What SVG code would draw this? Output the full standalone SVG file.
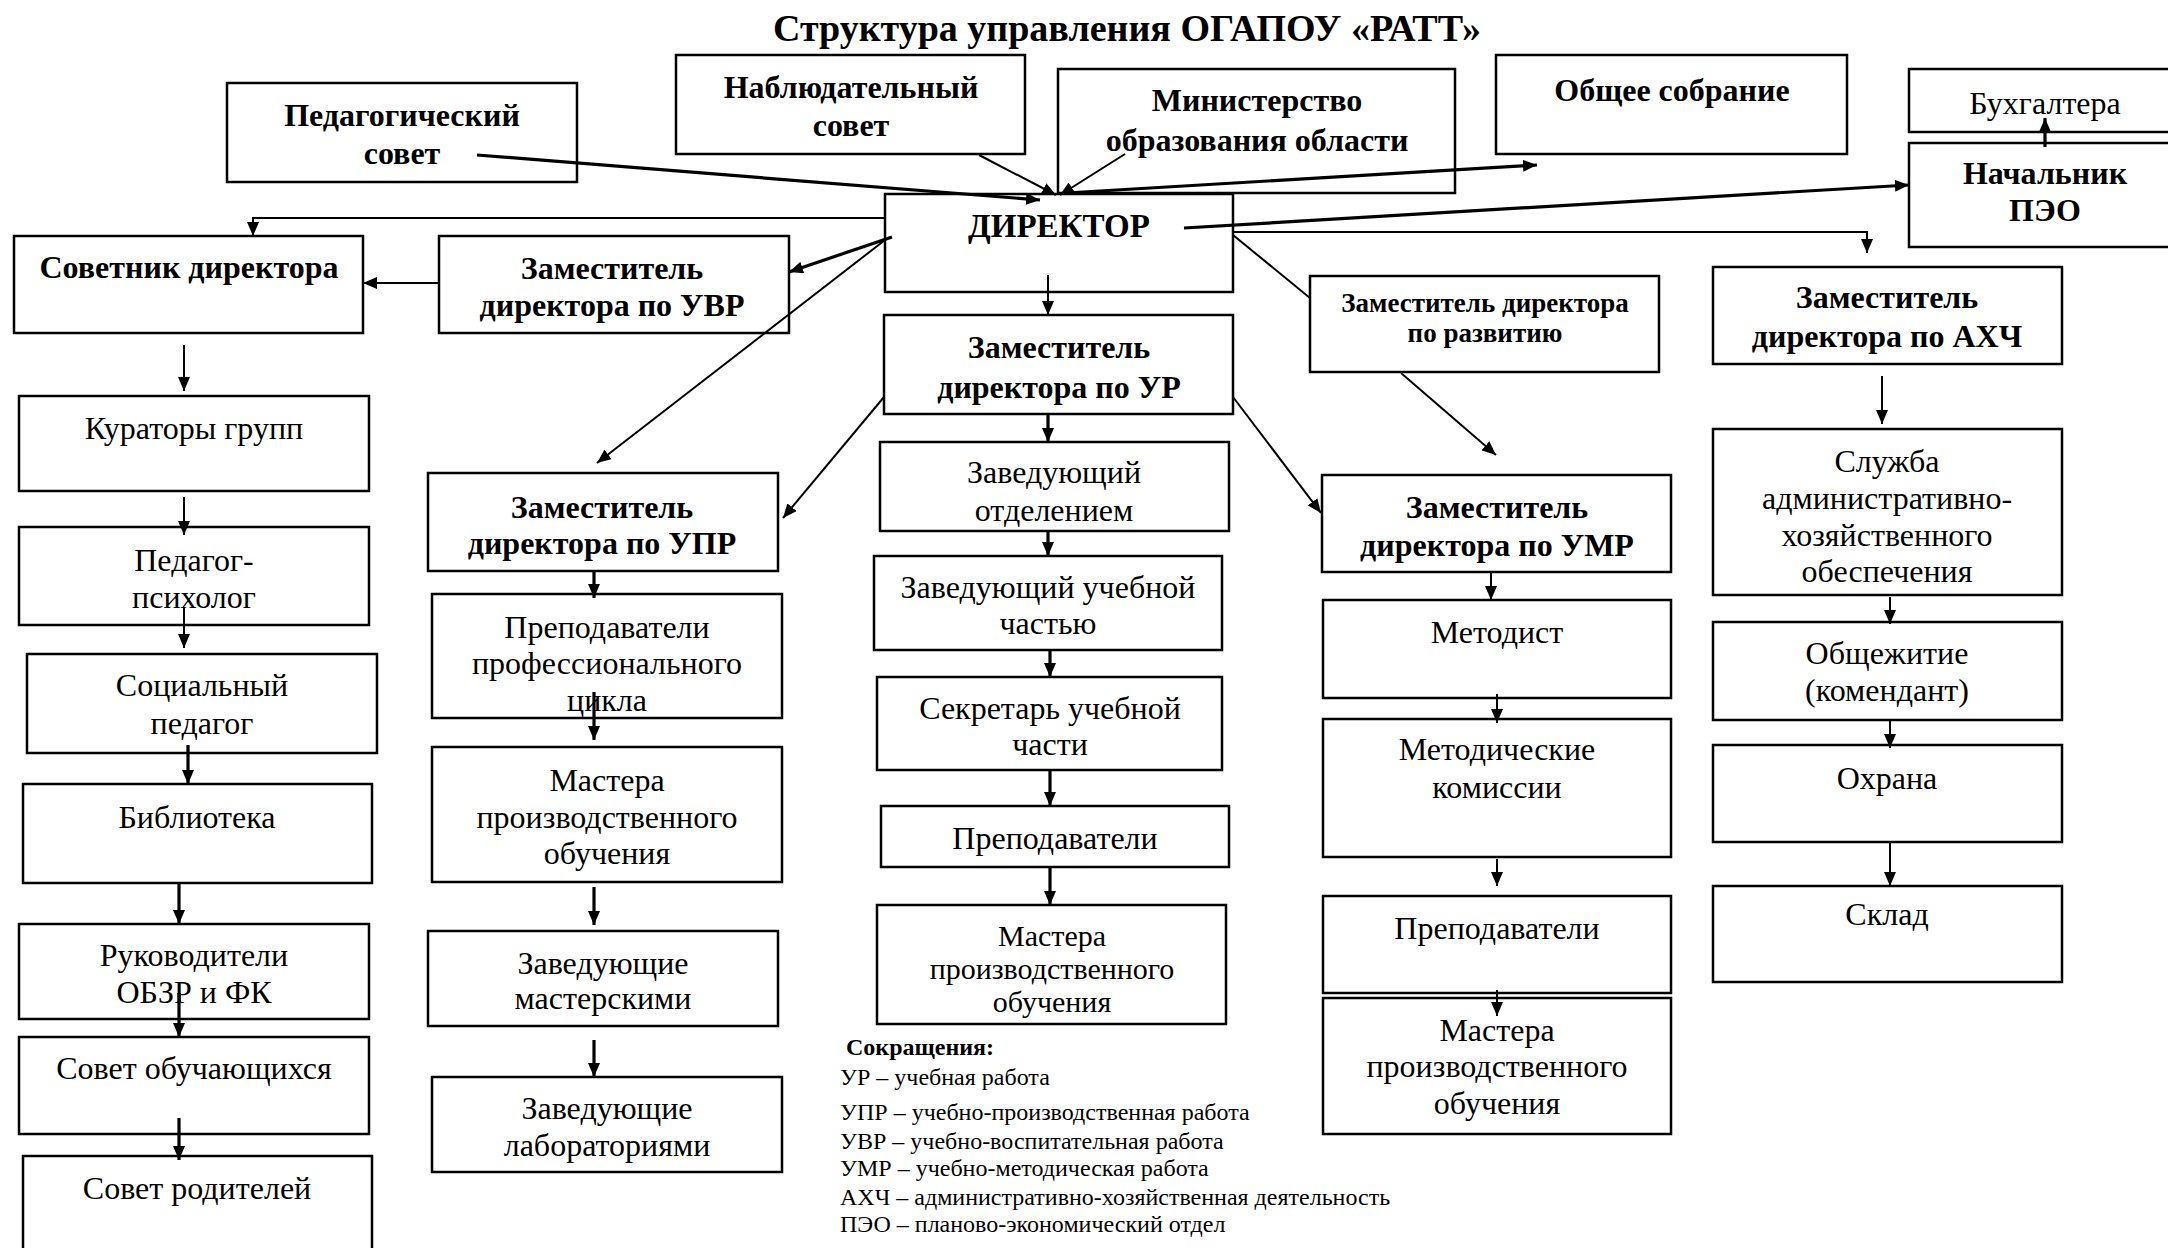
<svg xmlns="http://www.w3.org/2000/svg" width="2168" height="1248" viewBox="0 0 2168 1248">
<style>
.bx{fill:#fff;stroke:#000;stroke-width:2.5}
.t{font-family:"Liberation Serif","Times New Roman",serif;font-size:32px;text-anchor:middle;fill:#000}
.b{font-weight:bold}
.s{font-size:27px}
.m{font-size:30px}
.c{fill:none;stroke:#000;stroke-width:2}
.k{stroke-width:3.2}
.lg{font-family:"Liberation Serif","Times New Roman",serif;font-size:24px;fill:#000}
</style>
<defs>
<marker id="a" markerUnits="userSpaceOnUse" markerWidth="14" markerHeight="12" refX="14" refY="6" orient="auto"><path d="M0,0 L14,6 L0,12 z" fill="#000"/></marker>
</defs>
<rect width="2168" height="1248" fill="#fff"/>
<text class="t b" x="1127" y="41" style="font-size:38px">Структура управления ОГАПОУ «РАТТ»</text>

<g id="ped"><rect class="bx" x="227" y="83" width="350" height="99"/><text class="t b" x="402" y="126">Педагогический</text><text class="t b" x="402" y="164">совет</text></g>
<g id="nab"><rect class="bx" x="676" y="55" width="349" height="99"/><text class="t b" x="851" y="98">Наблюдательный</text><text class="t b" x="851" y="136">совет</text></g>
<g id="min"><rect class="bx" x="1058" y="69" width="397" height="124"/><text class="t b" x="1257" y="111">Министерство</text><text class="t b" x="1257" y="151">образования области</text></g>
<g id="obsh"><rect class="bx" x="1496" y="55" width="351" height="99"/><text class="t b" x="1672" y="101">Общее собрание</text></g>
<g id="buh"><rect class="bx" x="1909" y="69" width="300" height="63"/><text class="t" x="2045" y="114">Бухгалтера</text></g>
<g id="peo"><rect class="bx" x="1909" y="143" width="300" height="104"/><text class="t b" x="2045" y="184">Начальник</text><text class="t b" x="2045" y="221">ПЭО</text></g>
<g id="dir"><rect class="bx" x="885" y="194" width="348" height="98"/><text class="t b" x="1059" y="237" style="font-size:33px">ДИРЕКТОР</text></g>
<g id="sov"><rect class="bx" x="14" y="236" width="349" height="97"/><text class="t b" x="189" y="278">Советник директора</text></g>
<g id="uvr"><rect class="bx" x="439" y="236" width="350" height="97"/><text class="t b" x="612" y="279">Заместитель</text><text class="t b" x="612" y="316">директора по УВР</text></g>
<g id="ur"><rect class="bx" x="884" y="315" width="349" height="99"/><text class="t b" x="1059" y="358">Заместитель</text><text class="t b" x="1059" y="398">директора по УР</text></g>
<g id="razv"><rect class="bx" x="1310" y="276" width="349" height="96"/><text class="t b s" x="1485" y="312">Заместитель директора</text><text class="t b s" x="1485" y="342">по развитию</text></g>
<g id="ahch"><rect class="bx" x="1713" y="267" width="349" height="97"/><text class="t b" x="1887" y="308">Заместитель</text><text class="t b" x="1887" y="347">директора по АХЧ</text></g>

<g id="kur"><rect class="bx" x="19" y="396" width="350" height="95"/><text class="t" x="194" y="439">Кураторы групп</text></g>
<g id="psy"><rect class="bx" x="19" y="527" width="350" height="98"/><text class="t" x="194" y="571">Педагог-</text><text class="t" x="194" y="608">психолог</text></g>
<g id="soc"><rect class="bx" x="27" y="654" width="350" height="99"/><text class="t" x="202" y="696">Социальный</text><text class="t" x="202" y="734">педагог</text></g>
<g id="bib"><rect class="bx" x="23" y="784" width="349" height="99"/><text class="t" x="197" y="828">Библиотека</text></g>
<g id="ruk"><rect class="bx" x="19" y="924" width="350" height="95"/><text class="t" x="194" y="966">Руководители</text><text class="t" x="194" y="1003">ОБЗР и ФК</text></g>
<g id="sob"><rect class="bx" x="19" y="1037" width="350" height="97"/><text class="t" x="194" y="1079">Совет обучающихся</text></g>
<g id="rod"><rect class="bx" x="23" y="1156" width="349" height="110"/><text class="t" x="197" y="1199">Совет родителей</text></g>

<g id="upr"><rect class="bx" x="428" y="473" width="350" height="98"/><text class="t b" x="602" y="518">Заместитель</text><text class="t b" x="602" y="554">директора по УПР</text></g>
<g id="prepprof"><rect class="bx" x="432" y="594" width="350" height="124"/><text class="t" x="607" y="638">Преподаватели</text><text class="t" x="607" y="674">профессионального</text><text class="t" x="607" y="711">цикла</text></g>
<g id="mast1"><rect class="bx" x="432" y="747" width="350" height="135"/><text class="t" x="607" y="791">Мастера</text><text class="t" x="607" y="828">производственного</text><text class="t" x="607" y="864">обучения</text></g>
<g id="zavm"><rect class="bx" x="428" y="931" width="350" height="95"/><text class="t" x="603" y="974">Заведующие</text><text class="t" x="603" y="1009">мастерскими</text></g>
<g id="zavl"><rect class="bx" x="432" y="1077" width="350" height="95"/><text class="t" x="607" y="1119">Заведующие</text><text class="t" x="607" y="1156">лабораториями</text></g>

<g id="otd"><rect class="bx" x="880" y="442" width="349" height="89"/><text class="t" x="1054" y="483">Заведующий</text><text class="t" x="1054" y="521">отделением</text></g>
<g id="uch"><rect class="bx" x="874" y="556" width="348" height="94"/><text class="t" x="1048" y="598">Заведующий учебной</text><text class="t" x="1048" y="634">частью</text></g>
<g id="sekr"><rect class="bx" x="877" y="677" width="345" height="93"/><text class="t" x="1050" y="719">Секретарь учебной</text><text class="t" x="1050" y="755">части</text></g>
<g id="prepc"><rect class="bx" x="881" y="806" width="348" height="61"/><text class="t" x="1055" y="849">Преподаватели</text></g>
<g id="mastc"><rect class="bx" x="877" y="905" width="349" height="119"/><text class="t m" x="1052" y="946">Мастера</text><text class="t m" x="1052" y="979">производственного</text><text class="t m" x="1052" y="1012">обучения</text></g>

<g id="umr"><rect class="bx" x="1322" y="475" width="349" height="97"/><text class="t b" x="1497" y="518">Заместитель</text><text class="t b" x="1497" y="556">директора по УМР</text></g>
<g id="met"><rect class="bx" x="1323" y="600" width="348" height="98"/><text class="t" x="1497" y="643">Методист</text></g>
<g id="metk"><rect class="bx" x="1323" y="719" width="348" height="138"/><text class="t" x="1497" y="760">Методические</text><text class="t" x="1497" y="798">комиссии</text></g>
<g id="prepr"><rect class="bx" x="1323" y="896" width="348" height="97"/><text class="t" x="1497" y="939">Преподаватели</text></g>
<g id="mastr"><rect class="bx" x="1323" y="998" width="348" height="136"/><text class="t" x="1497" y="1041">Мастера</text><text class="t" x="1497" y="1077">производственного</text><text class="t" x="1497" y="1114">обучения</text></g>

<g id="sluzh"><rect class="bx" x="1713" y="429" width="349" height="166"/><text class="t" x="1887" y="472">Служба</text><text class="t" x="1887" y="509">административно-</text><text class="t" x="1887" y="546">хозяйственного</text><text class="t" x="1887" y="582">обеспечения</text></g>
<g id="obshezh"><rect class="bx" x="1713" y="622" width="349" height="98"/><text class="t" x="1887" y="664">Общежитие</text><text class="t" x="1887" y="701">(комендант)</text></g>
<g id="ohr"><rect class="bx" x="1713" y="745" width="349" height="97"/><text class="t" x="1887" y="789">Охрана</text></g>
<g id="sklad"><rect class="bx" x="1713" y="886" width="349" height="96"/><text class="t" x="1887" y="925">Склад</text></g>

<g id="legend">
<text class="lg b" x="846" y="1055">Сокращения:</text>
<text class="lg" x="840" y="1085">УР – учебная работа</text>
<text class="lg" x="840" y="1120">УПР – учебно-производственная работа</text>
<text class="lg" x="840" y="1149">УВР – учебно-воспитательная работа</text>
<text class="lg" x="840" y="1176">УМР – учебно-методическая работа</text>
<text class="lg" x="840" y="1205">АХЧ – административно-хозяйственная деятельность</text>
<text class="lg" x="840" y="1232">ПЭО – планово-экономический отдел</text>
</g>

<g id="connectors" marker-end="url(#a)">
<path class="c k" d="M477,155 L1040,200"/>
<path class="c" d="M979,155 L1056,195"/>
<path class="c" d="M1125,154 L1060,195"/>
<path class="c k" d="M1066,193 L1537,165"/>
<path class="c k" d="M1184,228 L1909,185"/>
<path class="c k" d="M2045,147 L2045,118"/>
<path class="c" d="M885,218 L253,218 L253,236"/>
<path class="c k" d="M892,237 L789,272"/>
<path class="c" d="M439,283 L363,283"/>
<path class="c" d="M885,240 L597,463"/>
<path class="c" d="M884,397 L783,518"/>
<path class="c" d="M1048,275 L1048,315"/>
<path class="c k" d="M1048,414 L1048,442"/>
<path class="c k" d="M1048,531 L1048,556"/>
<path class="c k" d="M1050,650 L1050,677"/>
<path class="c k" d="M1050,770 L1050,806"/>
<path class="c k" d="M1050,867 L1050,905"/>
<path class="c" d="M1233,235 L1310,298" marker-end="none"/>
<path class="c" d="M1401,373 L1496,455"/>
<path class="c" d="M1233,397 L1321,513"/>
<path class="c" d="M1491,572 L1491,600"/>
<path class="c" d="M1497,694 L1497,723"/>
<path class="c" d="M1497,859 L1497,886"/>
<path class="c" d="M1497,990 L1497,1016"/>
<path class="c" d="M1233,232 L1867,232 L1867,253"/>
<path class="c" d="M1882,376 L1882,424"/>
<path class="c" d="M1890,597 L1890,624"/>
<path class="c" d="M1890,720 L1890,748"/>
<path class="c" d="M1890,842 L1890,886"/>
<path class="c" d="M184,345 L184,391"/>
<path class="c" d="M184,497 L184,535"/>
<path class="c" d="M184,607 L184,648"/>
<path class="c k" d="M188,745 L188,784"/>
<path class="c k" d="M179,883 L179,924"/>
<path class="c k" d="M179,993 L179,1037"/>
<path class="c k" d="M179,1118 L179,1160"/>
<path class="c k" d="M594,571 L594,598"/>
<path class="c k" d="M594,692 L594,740"/>
<path class="c k" d="M594,887 L594,925"/>
<path class="c k" d="M594,1040 L594,1077"/>
</g>
</svg>
